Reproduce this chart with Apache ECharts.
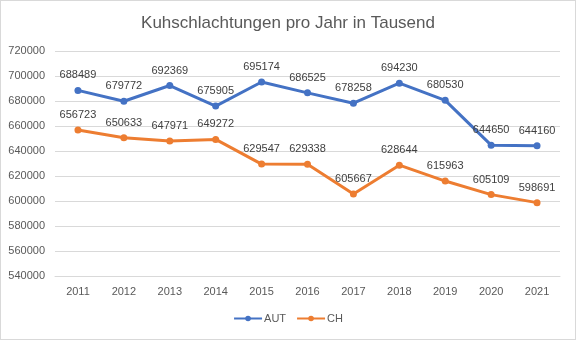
<!DOCTYPE html>
<html><head><meta charset="utf-8">
<script src="https://cdn.jsdelivr.net/npm/echarts@6/dist/echarts.min.js"></script>
<style>html,body{margin:0;padding:0;background:#fff}#wrap{position:absolute;left:0;top:0;width:574px;height:338px;border:1px solid #d9d9d9}#c{width:574px;height:338px}</style>
</head><body><div id="wrap"><div id="c"></div></div>
<script>
const years = ['2011','2012','2013','2014','2015','2016','2017','2018','2019','2020','2021'];
const aut = [688489,679772,692369,675905,695174,686525,678258,694230,680530,644650,644160];
const ch = [656723,650633,647971,649272,629547,629338,605667,628644,615963,605109,598691];
const chart = echarts.init(document.getElementById('c'), null, {renderer:'canvas'});
const font = 'Liberation Sans';
function s(name, data, color){
  return {name, type:'line', data, color, symbol:'circle', symbolSize:7,
    lineStyle:{width:3, color}, itemStyle:{color},
    label:{show:true, position:'top', distance:6, color:'#404040', fontFamily:font, fontSize:11}};
}
chart.setOption({
  animation:false,
  title:{text:'Kuhschlachtungen pro Jahr in Tausend', left:'center', top:9,
    textStyle:{fontFamily:font, fontSize:17, fontWeight:'normal', color:'#595959'}},
  legend:{bottom:10, left:'center', itemWidth:28, itemHeight:7, itemGap:10,
    textStyle:{fontFamily:font, fontSize:11, color:'#595959', padding:[0,0,0,-3]}, data:['AUT','CH']},
  grid:{left:54, right:15, top:50, height:225},
  xAxis:{type:'category', data:years, boundaryGap:true,
    axisLine:{show:true, lineStyle:{color:'#d9d9d9'}}, axisTick:{show:false},
    axisLabel:{color:'#595959', fontFamily:font, fontSize:11, margin:10}},
  yAxis:{type:'value', min:540000, max:720000, interval:20000,
    axisLine:{show:false}, axisTick:{show:false},
    splitLine:{lineStyle:{color:'#d9d9d9'}},
    axisLabel:{color:'#595959', fontFamily:font, fontSize:11, margin:10, formatter:v=>String(v)}},
  series:[s('AUT', aut, '#4472C4'), s('CH', ch, '#ED7D31')]
});
</script></body></html>
